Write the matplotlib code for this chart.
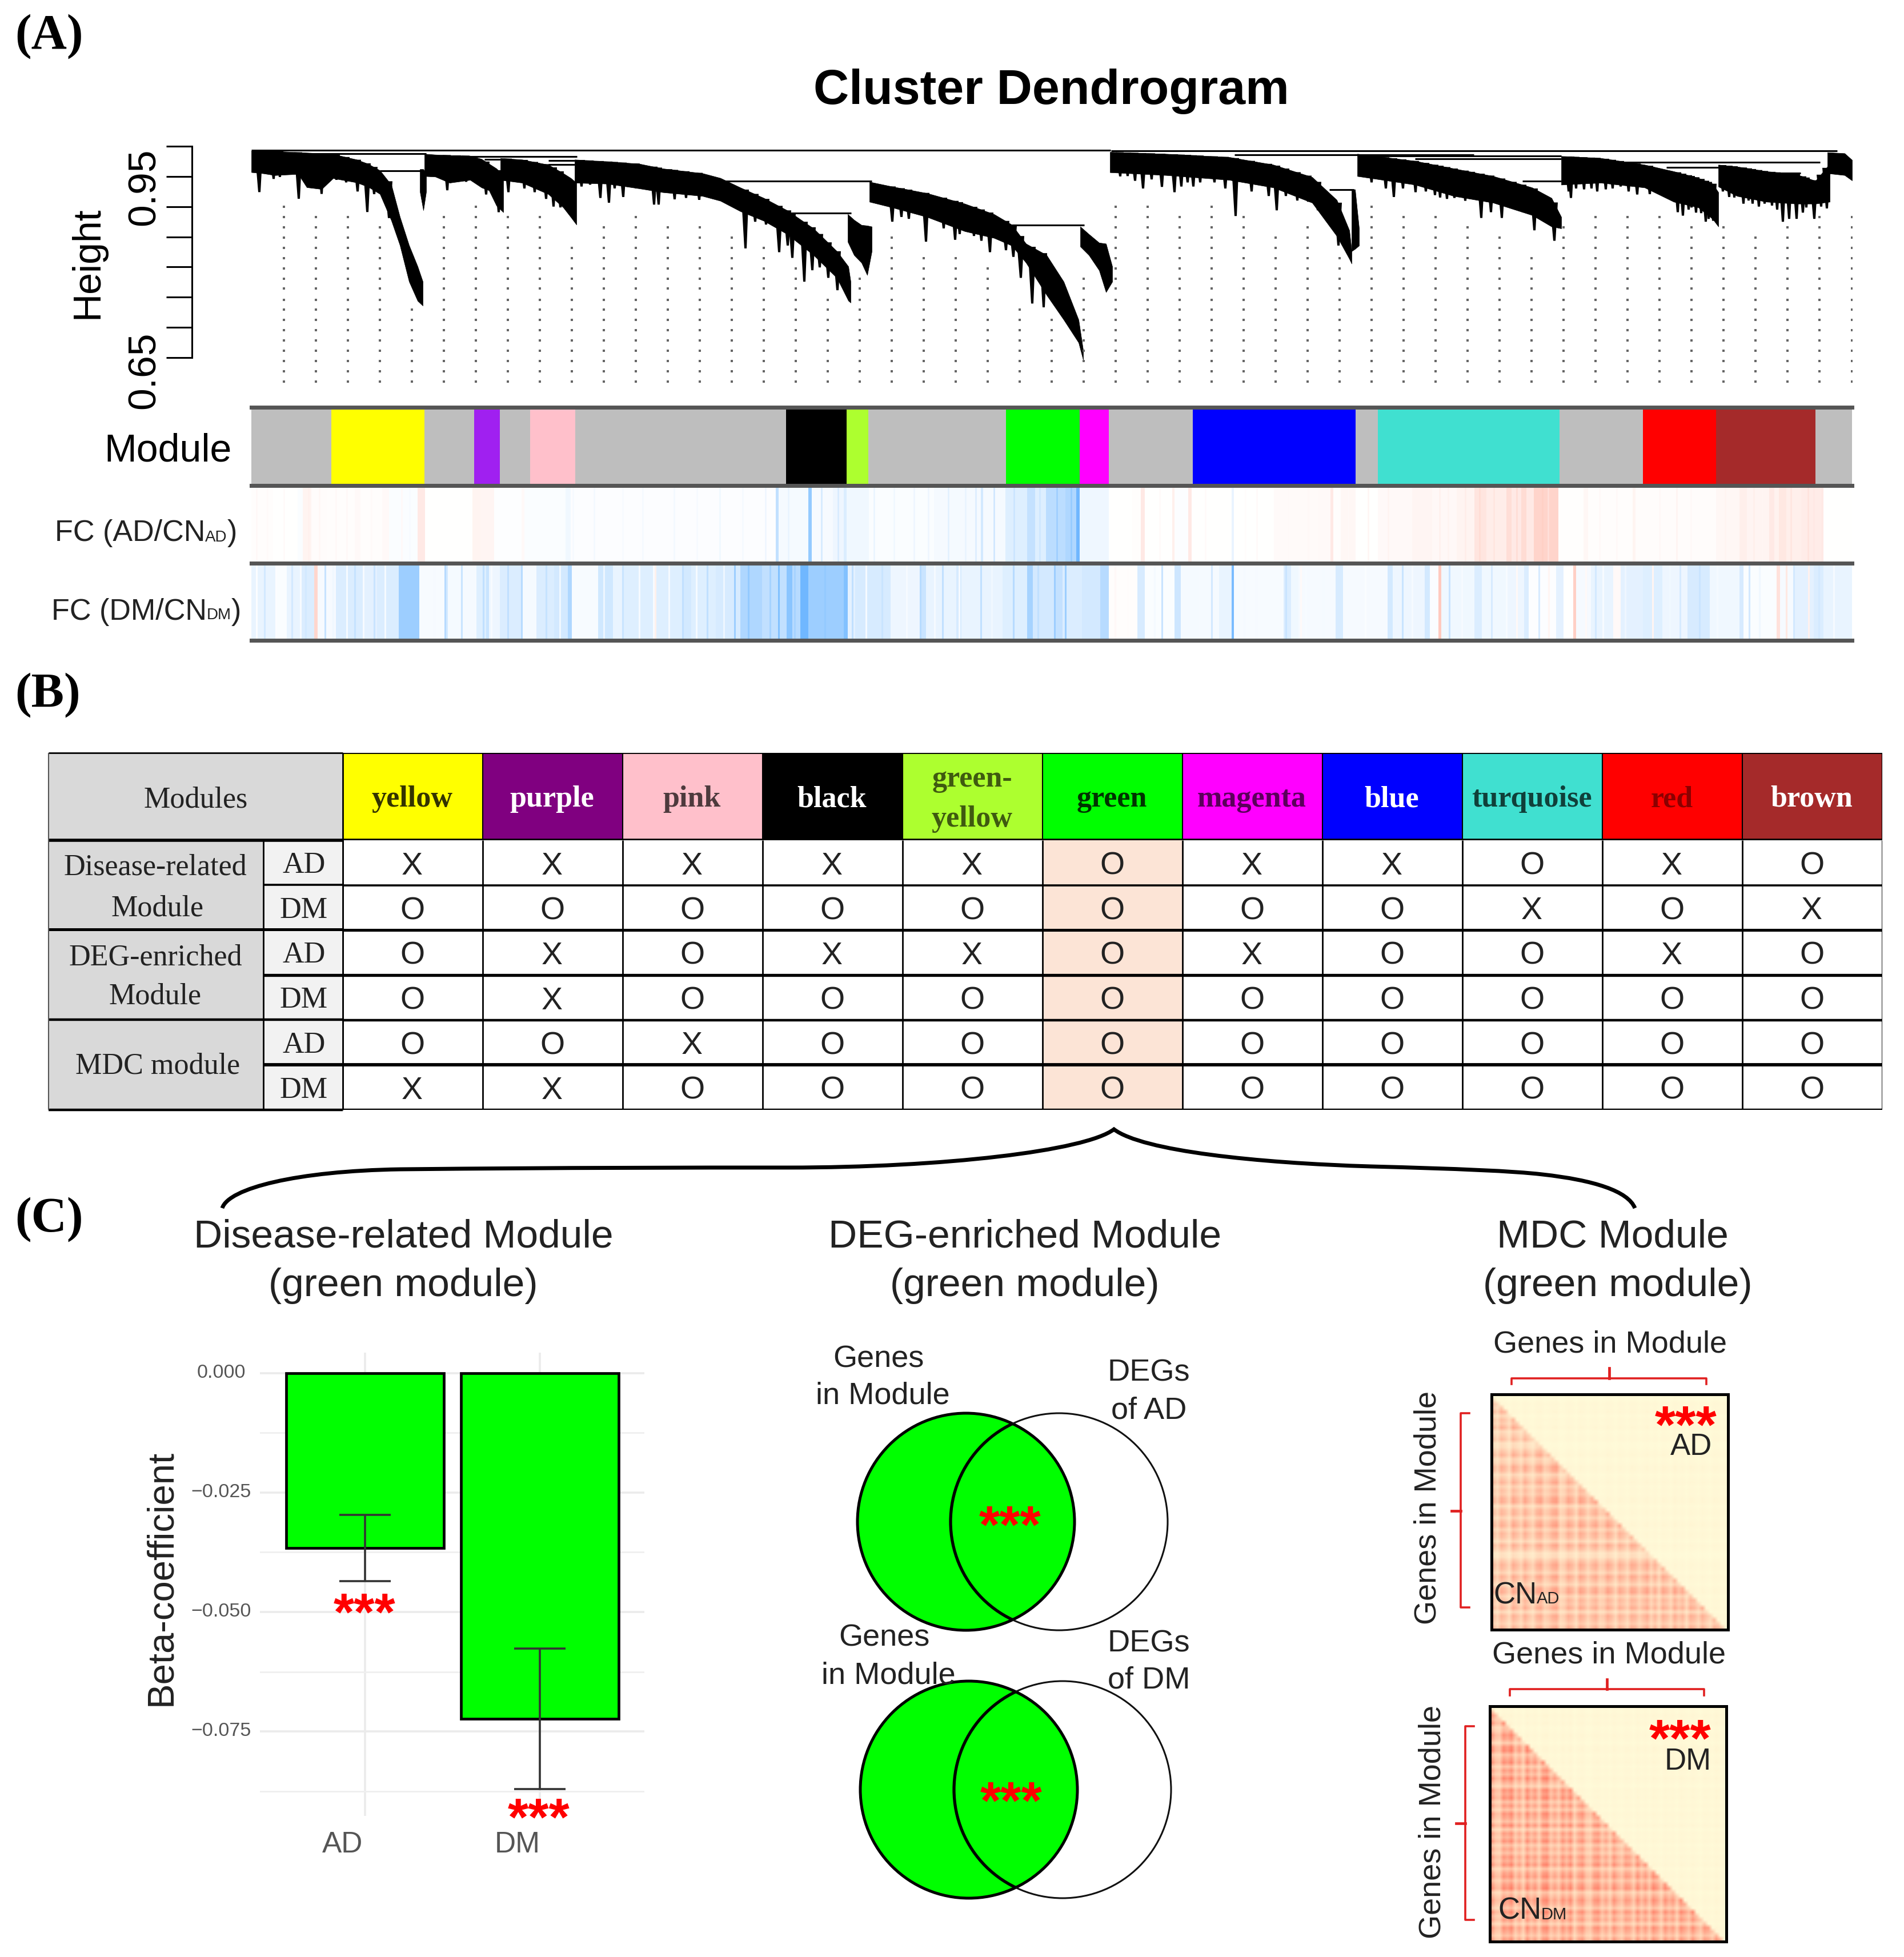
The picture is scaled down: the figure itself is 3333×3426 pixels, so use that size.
import numpy as np
import matplotlib
matplotlib.use('Agg')
import matplotlib.pyplot as plt
from matplotlib.colors import LinearSegmentedColormap
from matplotlib.offsetbox import AnnotationBbox, HPacker, TextArea
from matplotlib.patches import Circle, PathPatch, Rectangle
from matplotlib.path import Path
from matplotlib.transforms import ScaledTranslation

plt.rcParams['font.family'] = ['Liberation Sans', 'DejaVu Sans']

W, H = 3333, 3426

# dendrogram clusters: leaf position, upper edge, lower edge, long branches
a_x = [440, 461, 481, 522, 537, 563, 583, 624, 644, 665, 685, 700, 716, 731, 740]
a_top = [.9924, .9924, .9918, .990, .9893, .988, .987, .978, .971, .960, .936, .883, .836, .801, .776]
a_bot = [.957, .955, .952, .954, .932, .929, .947, .940, .933, .921, .877, .836, .776, .744, .736]
a_sx = [453, 478, 489, 522, 562, 588, 605, 625, 642, 654, 680]
a_sh = [.924, .9458, .949, .913, .921, .9442, .940, .925, .891, .9206, .881]

a2_x = [735, 741, 746]
a2_top = [.962, .962, .955]
a2_bot = [.925, .894, .925]

b_x = [743, 762, 787, 823, 843, 856, 869, 881]
b_top = [.9874, .9861, .9852, .9842, .9789, .9710, .9631, .9521]
b_bot = [.9505, .9496, .9395, .9442, .9316, .9269, .9017, .8907]
b_sx = [782, 800, 815, 850, 872]
b_sh = [.927, .943, .941, .920, .8907]

c_x = [876, 914, 960, 986, 999, 1009]
c_top = [.9804, .9779, .9694, .9552, .9474, .9395]
c_bot = [.9442, .9395, .9206, .8986, .8828, .8702]
c_sx = [889, 917, 935, 955, 968, 980]
c_sh = [.9238, .930, .9238, .9127, .900, .8986]

d_x = [1006, 1063, 1119, 1160, 1230, 1261, 1296, 1337, 1378, 1424, 1465, 1485, 1489]
d_top = [.9779, .9748, .9710, .9631, .9552, .9474, .9316, .9143, .8938, .8639, .8261, .8009, .7757]
d_bot = [.9395, .9379, .9301, .9238, .9175, .9096, .8923, .8765, .8544, .8198, .7820, .7442, .7410]
d_sx = [1017, 1032, 1050, 1065, 1075, 1090, 1113, 1144, 1152, 1170, 1180, 1200, 1223, 1304, 1321, 1340, 1363, 1378, 1386,
        1407, 1421, 1434, 1449, 1465]
d_sh = [.9332, .9363, .9143, .9064, .9301, .9159, .9301, .9033, .9033, .9238, .9120, .9143, .9111, .8308, .8749, .8702,
        .8245, .8355, .8151, .7757, .7946, .7993, .782, .7615]

d2_x = [1484, 1495, 1508, 1518, 1526]
d2_top = [.8875, .8781, .8696, .8686, .8670]
d2_bot = [.8418, .8198, .8072, .7867, .8261]

e_x = [1522, 1562, 1623, 1689, 1740, 1771, 1796, 1832, 1862, 1888, 1896]
e_top = [.9411, .9332, .9222, .9048, .8875, .8702, .8387, .8198, .7757, .7127, .6623]
e_bot = [.9080, .8986, .8828, .8592, .8481, .8355, .8072, .7537, .7127, .6749, .6465]
e_sx = [1561, 1577, 1590, 1620, 1651, 1671, 1679, 1704, 1717, 1732, 1760, 1773, 1786, 1806, 1826]
e_sh = [.875, .8828, .8797, .8419, .8639, .845, .8545, .8513, .8434, .8245, .8277, .8167, .782, .7395, .7332]

e2_x = [1891, 1906, 1924, 1936, 1947]
e2_top = [.8670, .8545, .8403, .8387, .8009]
e2_bot = [.8340, .8198, .7946, .7584, .7757]

f_x = [1943, 2041, 2152, 2229, 2297, 2340, 2362, 2366]
f_top = [.9905, .9874, .9820, .9694, .9489, .9111, .8607, .8261]
f_bot = [.9568, .9521, .9442, .9316, .9064, .8513, .8135, .8056]
f_sx = [1960, 1973, 1986, 2000, 2015, 2033, 2055, 2067, 2078, 2088, 2100, 2125, 2144, 2162, 2190, 2220, 2234, 2250, 2270,
        2289, 2306, 2342]
f_sh = [.95, .9505, .9427, .930, .945, .9326, .9238, .9332, .94, .9332, .94, .94, .930, .8844, .925, .9175, .8938, .9175,
        .91, .9080, .8938, .8355]

f2_x = [2366, 2372, 2379]
f2_top = [.9285, .9285, .8639]
f2_bot = [.8261, .8300, .8355]

g_x = [2376, 2477, 2545, 2614, 2682, 2716, 2733]
g_top = [.9874, .9757, .9631, .9505, .9316, .9143, .8828]
g_bot = [.9505, .9363, .9175, .9064, .8859, .8670, .8639]
g_sx = [2400, 2425, 2439, 2455, 2477, 2495, 2511, 2520, 2532, 2545, 2564, 2575, 2592, 2609, 2628, 2648, 2665, 2685, 2720]
g_sh = [.94, .93, .9159, .93, .9238, .925, .9190, .915, .9127, .9143, .9096, .9206, .8812, .8907, .8812, .8985, .8907,
        .8607, .8434]

h_x = [2733, 2802, 2879, 2930, 2973, 2998, 3008]
h_top = [.9836, .9804, .9694, .9584, .9474, .9379, .9237]
h_bot = [.9363, .9395, .9316, .9080, .8986, .8796, .8670]
h_sx = [2745, 2749, 2758, 2772, 2785, 2795, 2810, 2822, 2836, 2850, 2865, 2887, 2936, 2945, 2955, 2960, 2968, 2977, 2985,
        2990, 2998]
h_sh = [.925, .9143, .93, .9285, .9300, .925, .9285, .93, .9332, .925, .92, .9206, .8907, .885, .895, .8985, .89, .8891,
        .875, .8796, .8765]

i_x = [3008, 3041, 3092, 3144, 3178, 3203]
i_top = [.9694, .9663, .9584, .9537, .9427, .9710]
i_bot = [.9332, .9175, .9080, .9048, .9048, .9080]
i_sx = [3015, 3026, 3035, 3051, 3060, 3067, 3078, 3088, 3101, 3110, 3120, 3131, 3144, 3155, 3161, 3175, 3187, 3197]
i_sh = [.925, .9159, .915, .9048, .91, .9048, .90, .9048, .9017, .895, .8749, .8797, .8797, .89, .8985, .8797, .90, .8970]

j_x = [3199, 3229, 3242]
j_top = [.9899, .9883, .9773]
j_bot = [.9552, .9521, .9433]

merge_x0 = [440, 1945, 512, 665, 745, 848, 960, 960, 1261, 1383, 1771, 2327, 2161, 2383, 2477, 2665, 2917, 2793, 3041]
merge_x1 = [1944, 3216, 746, 741, 1010, 876, 1006, 1006, 1526, 1490, 1898, 2370, 2580, 2733, 2733, 2733, 3008, 3186, 3152]
merge_h = [.9937, .9921, .988, .959, .983, .978, .976, .970, .9425, .8891, .8696, .9285, .986, .9836, .9789, .9420, .9647, .9737, .9552]

height_ticks = [.65, .70, .75, .80, .85, .90, .95, 1.00]
guide_heights = [.900, .883, .866, .849, .832, .815, .798, .781, .764, .746, .729, .712, .695, .678, .661, .644, .627, .610]
guide_x = [497, 553, 609, 665, 721, 777, 833, 889, 945, 1001, 1057, 1113, 1169, 1225, 1281, 1337, 1393, 1449, 1505,
           1561, 1617, 1673, 1729, 1785, 1841, 1897, 1953, 2009, 2065, 2121, 2177, 2233, 2289, 2345, 2401, 2457, 2513,
           2569, 2625, 2681, 2737, 2793, 2849, 2905, 2961, 3017, 3073, 3129, 3185, 3242]
guide_first = [0, 1, 1, 2, 10, 1, 0, 1, 1, 4, 2, 1, 2, 2, 3, 4, 6, 9, 7, 3, 5, 5, 6, 10, 11, 7, 0, 0, 1, 0, 1, 3, 2, 5,
               0, 1, 1, 2, 3, 5, 2, 1, 1, 1, 2, 2, 3, 2, 1, 1]

# module colour bar
module_edges = [440, 580, 743, 830, 875, 928, 1007, 1376, 1482, 1520, 1761, 1890, 1941, 2088, 2373, 2412, 2730, 2876, 3004, 3178, 3242]
module_colors = ['#BEBEBE', '#FFFF00', '#BEBEBE', '#A020F0', '#BEBEBE', '#FFC0CB', '#BEBEBE', '#000000', '#ADFF2F',
                 '#BEBEBE', '#00FF00', '#FF00FF', '#BEBEBE', '#0000FF', '#BEBEBE', '#40E0D0', '#BEBEBE', '#FF0000',
                 '#A52A2A', '#BEBEBE']

# fold change strips, edges along the same leaf order
fc_ad_edges = [440, 478, 521, 530, 545, 573, 621, 631, 669, 681, 731, 744, 827, 841, 865, 913, 918, 990, 999, 1358, 1363,
               1415, 1421, 1458, 1477, 1482, 1521, 1635, 1717, 1721, 1760, 1798, 1812, 1831, 1865, 1884, 1890, 1941, 1982,
               1997, 2004, 2052, 2056, 2080, 2086, 2156, 2160, 2230, 2308, 2329, 2334, 2347, 2373, 2412, 2472, 2507, 2550,
               2581, 2602, 2637, 2646, 2663, 2672, 2685, 2728, 2772, 2780, 2858, 2863, 3004, 3045, 3058, 3097, 3106, 3114,
               3127, 3153, 3188, 3192, 3242]
fc_ad_vals = [.02, 0, -.03, .1, .03, .02, .05, .02, .05, -.03, .18, 0, .1, .08, -.01, .05, -.03, -.08, -.02, -.35, -.06,
              -.6, -.05, -.1, -.2, -.08, -.03, -.06, -.25, -.06, -.18, -.33, -.18, -.38, -.45, -.8, -.09, 0, .02,
              .18, 0, .13, -.02, .18, 0, -.12, 0, .04, .05, .18, .02, .07, 0, .05, .08, .06, .1,
              .22, .15, .28, .18, .3, .18, .36, .01, .07, .02, .1, .03, .07, .14, .09, .18, .11, .2,
              .14, .16, .18, 0]
fc_ad_line_x = [449, 468, 497, 540, 559, 588, 607, 650, 703, 717, 1003, 1040, 1090, 1125, 1180, 1220, 1260, 1300, 1340,
                1380, 1438, 1467, 1530, 1565, 1600, 1625, 1660, 1690, 1708, 1740, 1775, 1820, 1850, 1875, 2030, 2110, 2180,
                2200, 2255, 2290, 2360, 2395, 2430, 2520, 2535, 2565, 2590, 2615, 2655, 2700, 2710, 2800, 2830, 2905, 2935,
                2960, 3020, 3070, 3085, 3135, 3165, 3175]
fc_ad_line_v = [.06, .04, .04, .12, .07, .05, .06, .04, .05, -.04, -.05, -.07, -.04, -.06, -.07, -.05, -.08, -.06, -.1,
                -.12, -.25, -.22, -.12, -.08, -.1, -.1, -.16, -.12, -.2, -.28, -.3, -.28, -.55, -.6, .04, .04, .03,
                .05, .05, .06, .06, .08, .1, .12, .1, .15, .3, .22, .3, .4, .25, .06, .05, .06, .1,
                .05, .1, .14, .08, .22, .24, .18]
fc_dm_edges = [440, 483, 502, 526, 550, 556, 588, 636, 660, 698, 734, 779, 784, 832, 851, 856, 875, 913, 937, 970, 994,
               1001, 1047, 1073, 1090, 1143, 1149, 1195, 1210, 1253, 1296, 1334, 1377, 1387, 1401, 1415, 1477, 1484, 1497,
               1559, 1611, 1621, 1674, 1683, 1755, 1798, 1808, 1846, 1860, 1894, 1926, 1941, 1991, 2004, 2056, 2067, 2134,
               2156, 2160, 2247, 2260, 2273, 2338, 2351, 2429, 2438, 2494, 2503, 2518, 2523, 2581, 2594, 2637, 2668, 2676,
               2724, 2737, 2754, 2759, 2785, 2824, 2837, 2876, 2910, 2954, 2993, 3045, 3052, 3110, 3116, 3140, 3175, 3192,
               3242]
fc_dm_vals = [-.12, -.03, -.12, -.2, .35, -.05, -.2, -.15, -.2, -.55, -.04, -.25, -.06, -.18, -.3, -.1, -.2, -.06, -.2, -.25,
              -.45, -.04, -.26, -.12, -.18, -.04, -.18, -.25, -.18, -.22, -.45, -.35, -.65, -.4, -.8, -.55, -.7, -.15, -.22,
              -.1, -.3, -.12, -.22, -.12, -.18, -.5, -.25, -.33, -.2, -.25, -.4, .02, -.22, -.03, -.28, -.06, -.12,
              -.75, -.04, -.2, -.08, -.05, -.22, -.05, -.25, -.1, -.25, -.03, .45, -.08, -.2, -.08, -.1, -.2, -.02,
              -.15, 0, .4, -.05, -.12, .05, -.15, -.18, -.1, -.22, -.08, -.22, -.03, .25, -.05, -.15, -.2, -.12]
fc_dm_line_x = [449, 463, 483, 511, 526, 535, 569, 583, 607, 621, 636, 655, 674, 760, 779, 808, 832, 846, 860, 889, 913,
                937, 956, 980, 999, 1057, 1090, 1119, 1147, 1171, 1195, 1219, 1238, 1267, 1286, 1310, 1348, 1363, 1391,
                1444, 1492, 1516, 1544, 1587, 1611, 1636, 1650, 1679, 1717, 1736, 1774, 1817, 1846, 1865, 1952, 1974, 2021,
                2034, 2099, 2121, 2178, 2199, 2251, 2277, 2286, 2316, 2368, 2390, 2455, 2472, 2537, 2559, 2611, 2637, 2655,
                2694, 2711, 2776, 2793, 2806, 2845, 2893, 2923, 2941, 2975, 3006, 3062, 3080, 3127, 3140, 3166, 3184, 3210]
fc_dm_line_v = [-.02, -.25, -.02, -.25, -.04, -.25, -.32, -.08, -.05, -.32, -.05, -.3, -.06, -.05, -.4, -.3, -.05, -.35, -.04,
                -.35, -.4, -.05, -.32, -.08, -.45, -.1, -.3, -.05, .12, -.06, -.35, -.06, -.35, -.1, -.55, -.6, -.5, -.7, -.5,
                -.6, -.35, -.05, -.3, -.05, -.4, -.06, -.35, -.05, -.35, -.08, -.4, -.35, -.55, -.55, .06, .03, -.06,
                -.3, -.05, -.25, -.06, -.05, -.3, .05, -.04, -.06, -.05, -.03, -.3, -.06, -.3, -.05, -.22, -.04, .06,
                -.22, .08, .05, -.25, -.04, -.1, .1, -.08, -.22, -.3, -.06, -.25, -.08, .2, -.25, .12, -.25, -.05]

# table
module_names = ['yellow', 'purple', 'pink', 'black', 'green-\nyellow', 'green', 'magenta', 'blue', 'turquoise', 'red', 'brown']
header_colors = ['#FFFF00', '#800080', '#FFC0CB', '#000000', '#ADFF2F', '#00FF00', '#FF00FF', '#0000FF', '#40E0D0', '#FF0000', '#A52A2A']
header_text = ['#333300', '#FFFFFF', '#4D3A3D', '#FFFFFF', '#3F5A10', '#003300', '#5A005A', '#FFFFFF', '#10403A', '#8B0000', '#FFFFFF']
row_marks = ['XXXXXOXXOXO',
             'OOOOOOOOXOX',
             'OXOXXOXOOXO',
             'OXOOOOOOOOO',
             'OOXOOOOOOOO',
             'XXOOOOOOOOO']
row_widths = [2.6, 3.6, 3.8, 3.2, 4.2, 3.2]

# bar panel
bar_x = [0, 1]
bar_labels = ['AD', 'DM']
bar_vals = [-.0366, -.0724]
bar_err = [.0069, .0147]
bar_major = [0, -.025, -.05, -.075]
bar_minor = [-.0125, -.0375, -.0625, -.0875]

# overlap panels, row and column strength along genes
heat_ad_rows = [.7, .55, 1, .8, 1.2, .6, 1, .85, 1.25, .6, .8, 1.05, .5, .55, .9, 1.2, .65, .8, 1.25, 1.15, .6, .9, 1.2, .7,
                1, .85, 1.25, 1.3, .6, 1.05, 1.15, .7, 1.1, 1.3, .75, 1.15, 1, .6, 1.2, .9,
                .45, .5, .9, 1.2, 1.05, .7, 1.25, 1, .65, 1.2, 1.3, .7, 1.05, .9, 1.2, .6, 1.15, 1, .75, 1.2]
heat_ad_cols = [1, .6, 1.1, .9, .55, 1.2, .95, .65, 1.2, .85, .6, 1.1, 1.25, .7, .85, 1.2, 1.3, .6, .75, 1.2, 1, .6, 1.25, 1.05,
                .65, 1, 1.2, .7, .8, 1.25, 1, .6, 1.15, .95, .65, 1.2, 1.1, .7, 1, 1.25,
                .7, 1.1, .6, 1.2, 1, .65, 1.25, .85, 1.1, .6, 1.2, 1.05, .7, 1.2, .9, .6, 1.15, 1, .7, 1.1]
heat_dm_rows = [1, .7, 1.2, .9, 1.25, .65, .8, 1.2, 1, .55, 1.2, 1.3, .7, 1, 1.25, .65, 1.1, .8, 1.3, .9, .55, 1.2, 1, 1.25,
                .7, 1.1, .65, 1.2, 1, .7, 1.25, .55, 1.1, .85, 1.2, .65, 1, .7, 1.15, .9,
                1.25, .6, 1, 1.2, .75, 1.1, 1.3, .6, .9, 1.2, 1, .65, 1.25, .85, 1.1, .6, 1.2, 1, .7, 1.15]
heat_dm_cols = [1.2, .7, .6, 1.2, 1, 1.3, .65, 1, .55, 1.25, .8, 1.1, .6, 1.2, 1.3, .7, 1, .65, 1.2, .85, 1.25, .55, 1, 1.2,
                .7, .6, 1.1, 1.2, .7, 1, .6, 1.2, .85, .65, 1.1, 1, .6, 1.2, .75, 1.1,
                .65, 1.25, 1, .6, 1.2, .85, 1.1, .6, 1.25, 1, .7, 1.25, .85, .6, 1.15, 1, .7, 1.25, .85, 1]

fc_cmap = LinearSegmentedColormap.from_list('fc', ['#4DA6FF', '#FFFFFF', '#FF8A70'])
heat_cmap = LinearSegmentedColormap.from_list('heat', ['#FFFCDA', '#FF2A1A'])


def px_axes(x0, y0, x1, y1, **kw):
    return fig.add_axes([x0 / W, 1 - y1 / H, (x1 - x0) / W, (y1 - y0) / H], **kw)


def pts(v):
    return v * 0.72


fig = plt.figure(figsize=(W / 100, H / 100), dpi=100, facecolor='white')

# ---- A: dendrogram
ax_d = px_axes(440, 240, 3242, 680)
ax_d.set_xlim(440, 3242)
ax_d.set_ylim(.5989, 1.01514)
ax_d.patch.set_alpha(0)
for name in ['top', 'right', 'bottom']:
    ax_d.spines[name].set_visible(False)
ax_d.spines['left'].set_position(('outward', pts(104)))
ax_d.spines['left'].set_bounds(.65, 1.0)
ax_d.spines['left'].set_linewidth(2.2)
ax_d.set_xticks([])
ax_d.set_yticks(height_ticks)
ax_d.set_yticklabels([])
ax_d.tick_params(axis='y', length=pts(45), width=2.2)

for gx, first in zip(guide_x, guide_first):
    ys = guide_heights[first:]
    ax_d.plot([gx] * len(ys), ys, ls='none', marker='s', ms=2.2, color='#666666', mew=0)

clusters = [(a_x, a_top, a_bot, a_sx, a_sh), (a2_x, a2_top, a2_bot, [], []), (b_x, b_top, b_bot, b_sx, b_sh),
            (c_x, c_top, c_bot, c_sx, c_sh), (d_x, d_top, d_bot, d_sx, d_sh), (d2_x, d2_top, d2_bot, [], []),
            (e_x, e_top, e_bot, e_sx, e_sh), (e2_x, e2_top, e2_bot, [], []), (f_x, f_top, f_bot, f_sx, f_sh),
            (f2_x, f2_top, f2_bot, [], []), (g_x, g_top, g_bot, g_sx, g_sh), (h_x, h_top, h_bot, h_sx, h_sh),
            (i_x, i_top, i_bot, i_sx, i_sh), (j_x, j_top, j_bot, [], [])]
for xs, top, bot, sx, sh in clusters:
    ax_d.fill_between(xs, top, bot, color='black', lw=0.5)
    for x, low in zip(sx, sh):
        base = np.interp(x, xs, top)
        ax_d.fill([x - 7, x + 7, x + 3, x - 1], [base, base, low, low], color='black', lw=0)
ax_d.hlines(merge_h, merge_x0, merge_x1, color='black', lw=2.2)

# ---- A: module bar and fold change strips
ax_m = px_axes(440, 713, 3242, 850)
ax_m.bar(module_edges[:-1], 1, width=np.diff(module_edges), align='edge', color=module_colors, lw=0)
ax_f1 = px_axes(440, 850, 3242, 986)
ax_f1.pcolormesh(fc_ad_edges, [0, 1], np.array([fc_ad_vals]), cmap=fc_cmap, vmin=-1, vmax=1)
ax_f1.vlines(fc_ad_line_x, 0, 1, colors=fc_cmap((np.array(fc_ad_line_v) + 1) / 2), lw=1.8)
ax_f2 = px_axes(440, 986, 3242, 1121)
ax_f2.pcolormesh(fc_dm_edges, [0, 1], np.array([fc_dm_vals]), cmap=fc_cmap, vmin=-1, vmax=1)
ax_f2.vlines(fc_dm_line_x, 0, 1, colors=fc_cmap((np.array(fc_dm_line_v) + 1) / 2), lw=2.2)
for ax in [ax_m, ax_f1, ax_f2]:
    ax.set_xlim(440, 3242)
    ax.set_ylim(0, 1)
    ax.set_xticks([])
    ax.set_yticks([])
    ax.spines['left'].set_visible(False)
    ax.spines['right'].set_visible(False)
    ax.spines['top'].set_linewidth(5)
    ax.spines['bottom'].set_linewidth(5)
    ax.spines['top'].set_color('#555555')
    ax.spines['bottom'].set_color('#555555')

# ---- B: table body and header
ax_t = px_axes(600, 1471, 3295, 1943)
ax_t.set_xlim(0, 11)
ax_t.set_ylim(6, 0)
ax_t.axvspan(5, 6, color='#FCE4D6', lw=0)
for r, marks in enumerate(row_marks):
    for c, mark in enumerate(marks):
        ax_t.text(c + .496, r + .58, mark, ha='center', va='center', fontsize=40, color='#222222')
ax_t.vlines(range(12), 0, 6, color='black', lw=2)
for r, lw in enumerate(row_widths):
    ax_t.hlines(r + 1, 0, 11, color='black', lw=lw)
ax_t.axis('off')

ax_h = px_axes(600, 1318, 3295, 1471)
ax_h.bar(np.arange(11) + .5, 1, width=1, color=header_colors, lw=0)
ax_h.set_xlim(0, 11)
ax_h.set_ylim(0, 1)
for i, name in enumerate(module_names):
    ax_h.text(i + .496, .47, name, ha='center', va='center', fontsize=37.5, fontweight='bold', family='Liberation Serif',
              color=header_text[i], linespacing=1.6)
ax_h.vlines(range(12), 0, 1, color='black', lw=1.5)
ax_h.hlines([0, 1], 0, 11, color='black', lw=[4, 2])
ax_h.axis('off')

# ---- C: bar panel
ax_b = px_axes(455, 2368, 1128, 3179)
ax_b.patch.set_alpha(0)
ax_b.bar(bar_x, bar_vals, width=.9, color='#00FF00', edgecolor='black', lw=3.4, zorder=3)
ax_b.errorbar(bar_x, bar_vals, yerr=bar_err, fmt='none', ecolor='#333333', elinewidth=2.6, capsize=pts(45), capthick=2.6, zorder=4)
ax_b.set_xlim(-.601, 1.598)
ax_b.set_ylim(-.0927, .0043)
ax_b.set_yticks(bar_major)
ax_b.set_yticks(bar_minor, minor=True)
ax_b.set_yticklabels(['0.000', '\u22120.025', '\u22120.050', '\u22120.075'], ha='center', color='#555555', fontsize=24.5)
ax_b.set_xticks(bar_x)
ax_b.set_xticklabels(bar_labels, color='#555555', fontsize=37)
ax_b.tick_params(axis='both', which='both', length=0)
ax_b.tick_params(axis='y', pad=pts(68))
ax_b.tick_params(axis='x', pad=pts(26))
ax_b.grid(True, axis='both', which='major', color='#EBEBEB', lw=2.6)
ax_b.grid(True, axis='y', which='minor', color='#EFEFEF', lw=2)
ax_b.set_axisbelow(True)
for spine in ax_b.spines.values():
    spine.set_visible(False)
shift = ScaledTranslation(-.39, 0, fig.dpi_scale_trans)
for lbl in ax_b.get_xticklabels():
    lbl.set_transform(lbl.get_transform() + shift)
lift = ScaledTranslation(0, .04, fig.dpi_scale_trans)
for lbl in ax_b.get_yticklabels():
    lbl.set_transform(lbl.get_transform() + lift)

# ---- C: overlap heat panels
heat_boxes = [(2611, 2441, 3025, 2853), (2608, 2987, 3022, 3399)]
heat_profiles = [(heat_ad_rows, heat_ad_cols, .27), (heat_dm_rows, heat_dm_cols, .36)]
for box, (rows, cols, strength) in zip(heat_boxes, heat_profiles):
    ax = px_axes(*box)
    n = len(rows)
    weight = np.where(np.tri(n, n, -1) > 0, strength, .022)
    ax.imshow(np.outer(rows, cols) * weight, cmap=heat_cmap, vmin=0, vmax=1, aspect='auto', interpolation='bilinear')
    ax.set_xticks([])
    ax.set_yticks([])
    for spine in ax.spines.values():
        spine.set_linewidth(3.6)

# ---- page overlay: labels, venn, brace, brackets
page = fig.add_axes([0, 0, 1, 1], zorder=10)
page.set_xlim(0, W)
page.set_ylim(H, 0)
page.axis('off')
page.patch.set_alpha(0)


def label(x, y, s, size, **kw):
    kw.setdefault('ha', 'center')
    kw.setdefault('va', 'center')
    kw.setdefault('color', '#222222')
    return page.text(x, y + 5, s, fontsize=size, **kw)


def stars(x, y):
    page.text(x, y + 45, '***', fontsize=67, fontweight='bold', color='#FF0000', ha='center', va='baseline')


def sub_label(x, y, main, sub, tail, size, sub_size, color='#222222', anchor=(0, .5)):
    parts = [TextArea(main, textprops=dict(fontsize=size, color=color)),
             TextArea(sub, textprops=dict(fontsize=sub_size, color=color))]
    if tail:
        parts.append(TextArea(tail, textprops=dict(fontsize=size, color=color)))
    box = HPacker(children=parts, align='baseline', pad=0, sep=0)
    page.add_artist(AnnotationBbox(box, (x, y + 5), xycoords='data', box_alignment=anchor, frameon=False, pad=0))


serif = dict(family='Liberation Serif')
for s, y in [('(A)', 59), ('(B)', 1212), ('(C)', 2130)]:
    label(26, y, s, 62, ha='left', fontweight='bold', color='black', **serif)

label(1840, 155, 'Cluster Dendrogram', 62, fontweight='bold', color='black')
label(153, 455, 'Height', 49, rotation=90, color='black')
label(253, 322, '0.95', 50, rotation=90, color='black')
label(253, 643, '0.65', 50, rotation=90, color='black')
label(406, 784, 'Module', 49, ha='right', color='black')
sub_label(96, 929, 'FC (AD/CN', 'AD', ')', 37.5, 20)
sub_label(90, 1066, 'FC (DM/CN', 'DM', ')', 37.5, 20)

# table left block
page.add_patch(Rectangle((85, 1318), 515, 625, facecolor='#D9D9D9', edgecolor='none'))
page.add_patch(Rectangle((461, 1471), 139, 472, facecolor='#F2F2F2', edgecolor='none'))
page.vlines([461], 1471, 1943, color='black', lw=2)
page.vlines([600], 1318, 1943, color='black', lw=2)
page.hlines([1318], 85, 600, color='black', lw=2)
page.hlines([1471, 1627, 1785, 1943], 85, 600, color='black', lw=[4, 3.6, 3.2, 3.2])
page.hlines([1549, 1707, 1864], 461, 600, color='black', lw=[2.6, 3.8, 4.2])
page.vlines([85], 1318, 1943, color='#555555', lw=1.5)
label(343, 1396, 'Modules', 37.5, **serif)
for s, x, y in [('Disease-related', 272, 1514), ('Module', 276, 1585), ('DEG-enriched', 272, 1671), ('Module', 272, 1740), ('MDC module', 276, 1862)]:
    label(x, y, s, 37.5, **serif)
for r in range(6):
    label(532, 1510 + 78.7 * r, 'AD' if r % 2 == 0 else 'DM', 37.5, **serif)

# brace from green column to the panels below
brace = Path([(389, 2115), (400, 2080), (520, 2050), (700, 2047), (1000, 2044), (1200, 2044), (1380, 2044),
              (1650, 2044), (1900, 2015), (1950, 1977),
              (2000, 2015), (2200, 2036), (2400, 2042), (2550, 2046), (2650, 2050), (2700, 2056),
              (2790, 2066), (2850, 2085), (2862, 2115)],
             [Path.MOVETO] + [Path.CURVE4] * 18)
page.add_patch(PathPatch(brace, facecolor='none', edgecolor='black', lw=5))

# section titles
for s, x, y in [('Disease-related Module', 706, 2161), ('(green module)', 706, 2246),
                ('DEG-enriched Module', 1794, 2161), ('(green module)', 1794, 2246),
                ('MDC Module', 2823, 2161), ('(green module)', 2832, 2246)]:
    label(x, y, s, 50)

label(282, 2757, 'Beta-coefficient', 47, rotation=90)
stars(638, 2808)
stars(943, 3167)

# venn panels
venn_left = [(1691, 2664), (1696, 3133)]
venn_right = [(1854, 2664), (1860, 3133)]
for lc, rc in zip(venn_left, venn_right):
    left = Circle(lc, 190, facecolor='#00FF00', edgecolor='black', lw=3.6)
    page.add_patch(left)
    page.add_patch(Circle(rc, 190, facecolor='none', edgecolor='#111111', lw=2.2))
    inner = Circle(rc, 190, facecolor='none', edgecolor='black', lw=3.8)
    page.add_patch(inner)
    inner.set_clip_path(Circle(lc, 190, transform=page.transData))
stars(1768, 2655)
stars(1770, 3138)
for s, x, y in [('Genes', 1538, 2375), ('in Module', 1545, 2439), ('DEGs', 2011, 2398), ('of AD', 2011, 2465),
                ('Genes', 1548, 2863), ('in Module', 1555, 2928), ('DEGs', 2011, 2872), ('of DM', 2011, 2937)]:
    label(x, y, s, 39)

# heat panel texts and brackets
label(2819, 2348, 'Genes in Module', 39)
label(2816, 2893, 'Genes in Module', 39)
label(2499, 2634, 'Genes in Module', 39, rotation=90)
label(2507, 3184, 'Genes in Module', 39, rotation=90)
stars(2951, 2480)
stars(2941, 3029)
label(2961, 2528, 'AD', 38)
label(2955, 3079, 'DM', 38)
sub_label(2614, 2788, 'CN', 'AD', '', 38, 21)
sub_label(2622, 3341, 'CN', 'DM', '', 38, 21)

red = '#E02020'
page.plot([2646, 2646, 2987, 2987], [2423, 2413, 2413, 2423], color=red, lw=2.6)
page.plot([2817, 2817], [2413, 2395], color=red, lw=3.4)
page.plot([2643, 2643, 2983, 2983], [2968, 2957, 2957, 2968], color=red, lw=2.6)
page.plot([2813, 2813], [2957, 2940], color=red, lw=3.4)
page.plot([2572, 2557, 2557, 2572], [2474, 2474, 2814, 2814], color=red, lw=2.6)
page.plot([2557, 2541], [2645, 2645], color=red, lw=3.4)
page.plot([2580, 2565, 2565, 2580], [3022, 3022, 3361, 3361], color=red, lw=2.6)
page.plot([2565, 2549], [3192, 3192], color=red, lw=3.4)

fig.savefig('out.png', dpi=100)
